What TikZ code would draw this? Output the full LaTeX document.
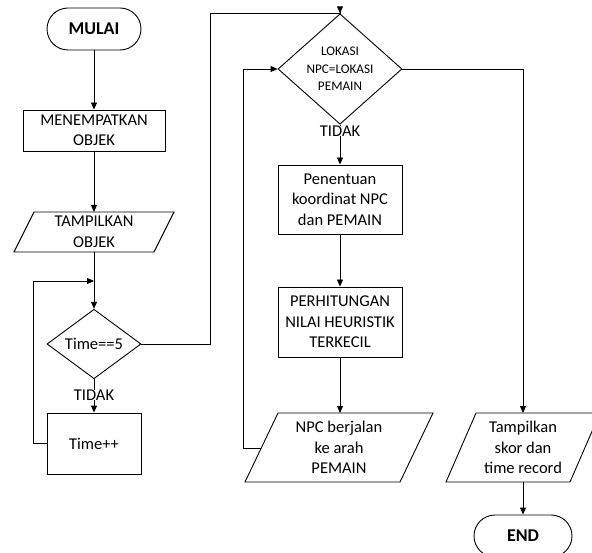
\documentclass[tikz,border=0pt]{standalone}
\usepackage{fontspec}
\setmainfont{Carlito}
\usetikzlibrary{shapes.geometric,arrows.meta}
\begin{document}
\begin{tikzpicture}[x=1pt,y=-1pt,
  every node/.style={font=\fontsize{16.5}{20.5}\selectfont, align=center, inner sep=0pt},
  line/.style={draw, line width=0.9pt},
  arr/.style={draw, line width=0.9pt, -{Triangle[length=7pt,width=6pt]}},
  box/.style={draw, line width=0.9pt, rectangle},
  term/.style={draw, line width=0.9pt, rectangle, rounded corners=21pt, minimum width=94pt, minimum height=42pt, font=\fontsize{18}{20}\selectfont\bfseries},
  dec/.style={draw, line width=0.9pt, diamond}
]
\useasboundingbox (0,0) rectangle (592,553);

% left column
\node[term] (mulai) at (94,29) {MULAI};
\node[box, minimum width=142pt, minimum height=41pt] (tempat) at (94,130.5) {MENEMPATKAN\\OBJEK};
\draw[line] (34,212) -- (174,212) -- (154,252) -- (14,252) -- cycle;
\node (tampil) at (94,232) {TAMPILKAN\\OBJEK};
\coordinate (tampil-t) at (94,212);
\coordinate (tampil-b) at (94,252);
\coordinate (merge) at (94,281);
\node[dec, minimum width=94pt, minimum height=60pt] (time5) at (94,344) {Time==5};
\node (tidak1) at (94,395) {TIDAK};
\node[box, minimum width=94pt, minimum height=61pt] (timepp) at (94,443.5) {Time++};

% middle column
\node[dec, minimum width=124pt, minimum height=77pt, font=\fontsize{13.2}{17.5}\selectfont] (lokasi) at (340,69) {LOKASI\\NPC=LOKASI\\PEMAIN};
\node (tidak2) at (340,131) {TIDAK};
\node[box, minimum width=124pt, minimum height=69pt] (penentuan) at (340,199.5) {Penentuan\\koordinat NPC\\dan PEMAIN};
\node[box, minimum width=124pt, minimum height=70pt] (hitung) at (340,322) {PERHITUNGAN\\NILAI HEURISTIK\\TERKECIL};
\draw[line] (278,413) -- (433,413) -- (400,482) -- (245,482) -- cycle;
\node (npc) at (339,447.5) {NPC berjalan\\ke arah\\PEMAIN};
\coordinate (npc-t) at (340,413);
\coordinate (npc-w) at (261.3,448);

% right column
\draw[line] (476,413) -- (600,413) -- (570,482) -- (446,482) -- cycle;
\node (skor) at (523,447.5) {Tampilkan\\skor dan\\time record};
\coordinate (skor-t) at (523,413);
\coordinate (skor-b) at (523,482);
\node[term, minimum width=98pt] (end) at (523,536) {END};

% connectors
\draw[arr] (mulai) -- (tempat);
\draw[arr] (tempat) -- (tampil-t);
\draw[arr] (tampil-b) -- (time5.north);
\draw[line] (time5.south) -- (tidak1.north);
\draw[arr] (tidak1.south) -- (timepp.north);
\draw[arr] (timepp.west) -- (33,443.5) -- (33,281) -- (merge);
\draw[arr] (time5.east) -- (210,344) -- (210,13) -- (340,13) -- (lokasi.north);
\draw[line] (lokasi.south) -- (tidak2.north);
\draw[arr] (tidak2.south) -- (penentuan.north);
\draw[arr] (penentuan) -- (hitung);
\draw[arr] (hitung) -- (npc-t);
\draw[arr] (npc-w) -- (243,448) -- (243,69) -- (lokasi.west);
\draw[arr] (lokasi.east) -- (523,69) -- (skor-t);
\draw[arr] (skor-b) -- (end.north);
\end{tikzpicture}
\end{document}
